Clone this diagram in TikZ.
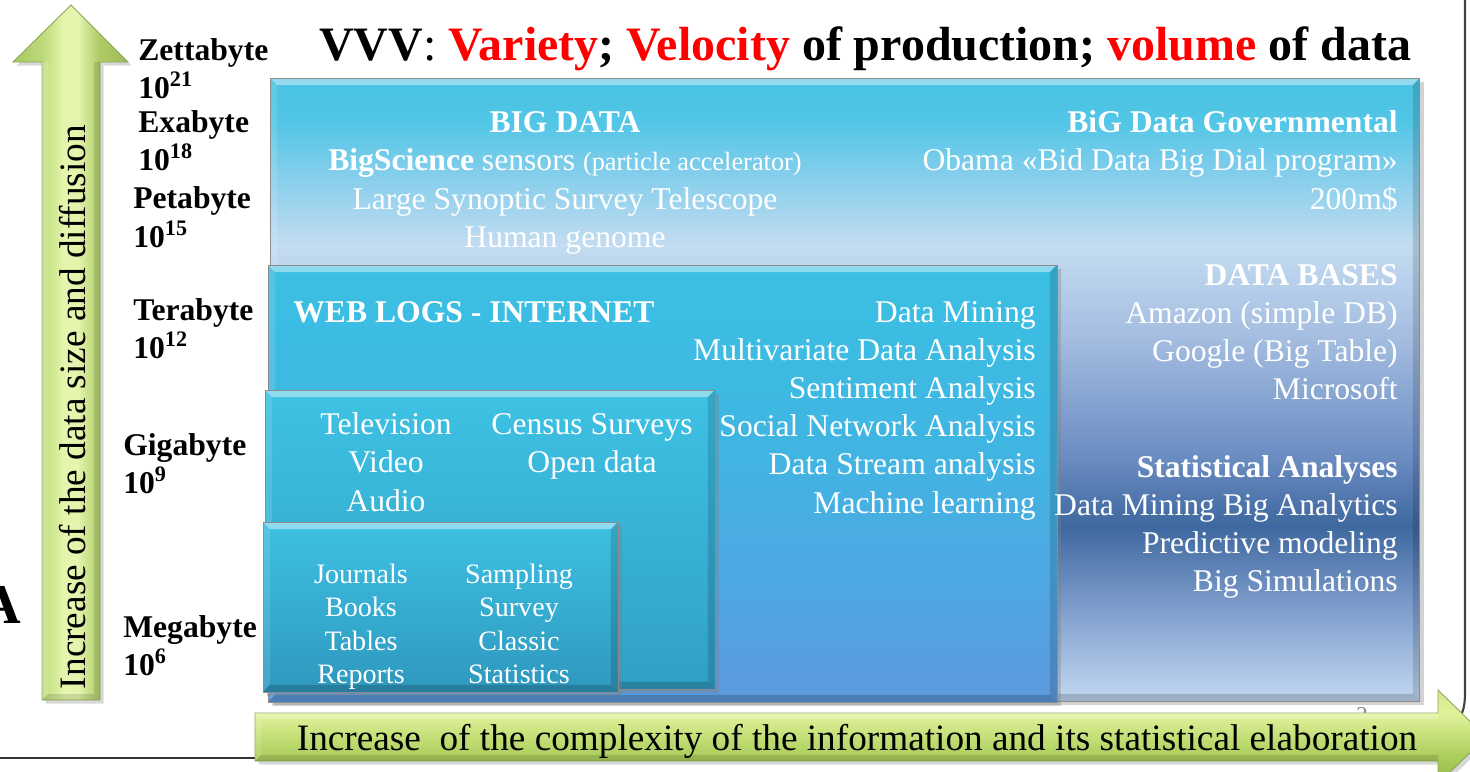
\documentclass[tikz,border=0pt]{standalone}
\usepackage{fontspec}
\setmainfont{Liberation Serif}
\usetikzlibrary{calc,shadows}

% panel colours
\definecolor{bgA}{HTML}{48C2E3}
\definecolor{bgAa}{HTML}{52C6E6}
\definecolor{bgAb}{HTML}{80CDEB}
\definecolor{bgAc}{HTML}{C4DCF1}
\definecolor{bgB}{HTML}{A3BCE0}
\definecolor{bgBb}{HTML}{6E8FC4}
\definecolor{bgC}{HTML}{3E689F}
\definecolor{bgD}{HTML}{7E9DCC}
\definecolor{bgE}{HTML}{C3D9F2}
\definecolor{wlT}{HTML}{3BC0E3}
\definecolor{wlM}{HTML}{3FB6E2}
\definecolor{wlN}{HTML}{4DA9E2}
\definecolor{wlB}{HTML}{5C99DD}
\definecolor{tvT}{HTML}{3EC2E4}
\definecolor{tvB}{HTML}{319FC6}
\definecolor{jbT}{HTML}{3DC1E3}
\definecolor{jbB}{HTML}{2F98BF}
% arrow greens
\definecolor{gD}{HTML}{A8C862}
\definecolor{gLa}{HTML}{BCD978}
\definecolor{gH}{HTML}{E6F5AE}
\definecolor{gLb}{HTML}{AFCB68}
\definecolor{gDb}{HTML}{9CBB55}
\definecolor{hB}{HTML}{94B548}
\definecolor{hMb}{HTML}{A6C957}
\definecolor{hM}{HTML}{C3DF77}
\definecolor{hT}{HTML}{E2F29C}
\definecolor{hTb}{HTML}{D0E888}
\definecolor{arrowedge}{HTML}{8AA85A}

\pgfdeclareverticalshading{bigshade}{100bp}{color(0bp)=(bgE); color(25bp)=(bgE);
  color(32.5bp)=(bgD); color(39bp)=(bgC); color(45bp)=(bgBb); color(54bp)=(bgB);
  color(61.5bp)=(bgAc); color(67.6bp)=(bgAb); color(71.5bp)=(bgAa); color(75bp)=(bgA); color(100bp)=(bgA)}
\pgfdeclareverticalshading{webshade}{100bp}{color(0bp)=(wlB); color(25bp)=(wlB);
  color(40bp)=(wlN); color(55bp)=(wlM); color(75bp)=(wlT); color(100bp)=(wlT)}
\pgfdeclareverticalshading{tvshade}{100bp}{color(0bp)=(tvB); color(25bp)=(tvB);
  color(75bp)=(tvT); color(100bp)=(tvT)}
\pgfdeclareverticalshading{jbshade}{100bp}{color(0bp)=(jbB); color(25bp)=(jbB);
  color(75bp)=(jbT); color(100bp)=(jbT)}
\pgfdeclarehorizontalshading{vgreen}{100bp}{color(0bp)=(gD); color(25bp)=(gD);
  color(37.5bp)=(gLa); color(47bp)=(gH); color(53bp)=(gH); color(62.5bp)=(gLb);
  color(75bp)=(gDb); color(100bp)=(gDb)}
\pgfdeclareverticalshading{hgreen}{100bp}{color(0bp)=(hB); color(25bp)=(hB);
  color(37.25bp)=(hMb); color(50bp)=(hM); color(62.75bp)=(hT); color(75bp)=(hTb);
  color(100bp)=(hTb)}

\tikzset{
  panel/.style={draw=black!45, line width=0.4pt, inner sep=0pt, outer sep=0pt,
    anchor=north west,
    drop shadow={shadow xshift=2.5pt, shadow yshift=-2.5pt, opacity=0.35},
    path picture={
      \path (path picture bounding box.north west) coordinate (pnw)
            (path picture bounding box.north east) coordinate (pne)
            (path picture bounding box.south west) coordinate (psw)
            (path picture bounding box.south east) coordinate (pse);
      \fill[white, opacity=0.42] (pnw) -- (pne) -- ($(pne)+(-7,7)$) -- ($(pnw)+(7,7)$) -- cycle;
      \fill[white, opacity=0.12] (pnw) -- ($(pnw)+(7,7)$) -- ($(psw)+(7,-7)$) -- (psw) -- cycle;
      \fill[black, opacity=0.14] (pne) -- (pse) -- ($(pse)+(-7,-7)$) -- ($(pne)+(-7,7)$) -- cycle;
      \fill[black, opacity=0.18] (psw) -- (pse) -- ($(pse)+(-7,-7)$) -- ($(psw)+(7,-7)$) -- cycle;
    }},
  greenarrow/.style={draw=arrowedge, line width=0.5pt,
    drop shadow={shadow xshift=2pt, shadow yshift=-2pt, opacity=0.3}},
  wt/.style={text=white, inner sep=0pt, font=\fontsize{18}{21.6}\selectfont},
  wts/.style={text=white, inner sep=0pt, font=\fontsize{16}{19}\selectfont},
  lab/.style={inner sep=0pt, anchor=base west, font=\fontsize{18}{21.6}\selectfont\bfseries},
  axistext/.style={inner sep=0pt, font=\fontsize{21.2}{25}\selectfont},
}

\begin{document}
\begin{tikzpicture}[x=0.02cm, y=-0.02cm]
\useasboundingbox (0,0) rectangle (1470,771);
\fill[white] (0,0) rectangle (1470,771);

% slide frame remnants
\draw[line width=1pt, black!80] (0,758) -- (262,758);
\draw[line width=1.2pt, black!75] (1465,-5) -- (1465,690) .. controls (1465,712) and (1462,716) .. (1452,724);
\node[text=black!45, inner sep=0pt, anchor=base, font=\fontsize{13}{15}\selectfont] (pgnum) at (1362,722) {2};

% nested panels
\node[panel, shading=bigshade, minimum width=23cm, minimum height=12.46cm] (bigdata) at (270,78) {};
\node[panel, shading=webshade, minimum width=15.78cm, minimum height=8.74cm] (weblogs) at (268,265) {};
\node[panel, shading=tvshade, minimum width=9cm, minimum height=5.98cm] (tvbox) at (265,390) {};
\node[panel, shading=jbshade, minimum width=7.1cm, minimum height=3.4cm] (jbox) at (263,522) {};

% BIG DATA panel, left column
\foreach \t [count=\i from 0] in {{\bfseries BIG DATA},
    {{\bfseries BigScience} sensors {\fontsize{15}{18}\selectfont(particle accelerator)}},
    {Large Synoptic Survey Telescope}, {Human genome}}
  \node[wt, anchor=base] (bigL\i) at (565,{132+38.5*\i}) {\t};

% BIG DATA panel, right column
\foreach \t [count=\i from 0] in {{\bfseries BiG Data Governmental},
    {Obama «Bid Data Big Dial program»}, {200m\$}}
  \node[wt, anchor=base east] (gov\i) at (1398,{132+38.5*\i}) {\t};
\foreach \t [count=\i from 0] in {{\bfseries DATA BASES}, {Amazon (simple DB)},
    {Google (Big Table)}, {Microsoft}}
  \node[wt, anchor=base east] (db\i) at (1398,{285+38.3*\i}) {\t};
\foreach \t [count=\i from 0] in {{\bfseries Statistical Analyses},
    {Data Mining Big Analytics}, {Predictive modeling}, {Big Simulations}}
  \node[wt, anchor=base east] (st\i) at (1398,{477+38.3*\i}) {\t};

% web logs panel
\node[wt, anchor=base west, font=\fontsize{18}{21.6}\selectfont\bfseries] (webtitle) at (293,322) {WEB LOGS - INTERNET};
\foreach \t [count=\i from 0] in {{Data Mining}, {Multivariate Data Analysis},
    {Sentiment Analysis}, {Social Network Analysis}, {Data Stream analysis},
    {Machine learning}}
  \node[wt, anchor=base east] (wl\i) at (1036,{322+38.2*\i}) {\t};

% media panel
\foreach \t [count=\i from 0] in {Television, Video, Audio}
  \node[wt, anchor=base] (tv\i) at (386,{434+38.5*\i}) {\t};
\foreach \t [count=\i from 0] in {{Census Surveys}, {Open data}}
  \node[wt, anchor=base] (cs\i) at (592,{434+38.5*\i}) {\t};

% printed sources panel
\foreach \t [count=\i from 0] in {Journals, Books, Tables, Reports}
  \node[wts, anchor=base] (jr\i) at (361,{583+33.5*\i}) {\t};
\foreach \t [count=\i from 0] in {Sampling, Survey, Classic, Statistics}
  \node[wts, anchor=base] (sm\i) at (519,{583+33.5*\i}) {\t};

% vertical axis arrow
\path[greenarrow, shading=vgreen] (42,700) -- (42,62) -- (13,62) -- (71,5) -- (128,62)
  -- (100,62) -- (100,700) -- cycle;
\fill[white, opacity=0.18] (42,700) -- (42,62) -- (48,62) -- (48,694) -- cycle;
\fill[black, opacity=0.10] (100,700) -- (100,62) -- (94,62) -- (94,694) -- cycle;
\fill[black, opacity=0.12] (42,700) -- (100,700) -- (94,694) -- (48,694) -- cycle;
\node[axistext, rotate=90, anchor=base] (vtext) at (85,407) {Increase of the data size and diffusion};

% horizontal axis arrow
\path[greenarrow, shading=hgreen] (255,713) -- (1438,713) -- (1438,690) -- (1486,737)
  -- (1438,784) -- (1438,761) -- (255,761) -- cycle;
\fill[white, opacity=0.22] (255,713) -- (1438,713) -- (1438,719) -- (261,719) -- cycle;
\fill[white, opacity=0.12] (255,713) -- (261,719) -- (261,755) -- (255,761) -- cycle;
\fill[black, opacity=0.12] (255,761) -- (1438,761) -- (1438,755) -- (261,755) -- cycle;
\node[axistext, anchor=base] (htext) at (857,750) {Increase\ \ of the complexity of the information and its statistical elaboration};

% size scale labels
\node[lab] (zetta) at (138,60) {Zettabyte};
\node[lab] (zettaN) at (138,98) {10\textsuperscript{21}};
\node[lab] (exa) at (138,132) {Exabyte};
\node[lab] (exaN) at (138,170) {10\textsuperscript{18}};
\node[lab] (peta) at (133,208) {Petabyte};
\node[lab] (petaN) at (133,247) {10\textsuperscript{15}};
\node[lab] (tera) at (133,320) {Terabyte};
\node[lab] (teraN) at (133,358) {10\textsuperscript{12}};
\node[lab] (giga) at (123,455) {Gigabyte};
\node[lab] (gigaN) at (123,493) {10\textsuperscript{9}};
\node[lab] (mega) at (123,637) {Megabyte};
\node[lab] (megaN) at (123,675) {10\textsuperscript{6}};

% clipped letter at the left edge
\node[inner sep=0pt, anchor=base east, font=\fontsize{32}{38}\selectfont\bfseries] (bigA) at (21,623) {A};

% title
\node[inner sep=0pt, anchor=base west, font=\fontsize{27.3}{32}\selectfont\bfseries] (title) at (319,60)
  {VVV{\mdseries:} \textcolor{red}{Variety}; \textcolor{red}{Velocity} of production; \textcolor{red}{volume} of data};
\end{tikzpicture}
\end{document}
